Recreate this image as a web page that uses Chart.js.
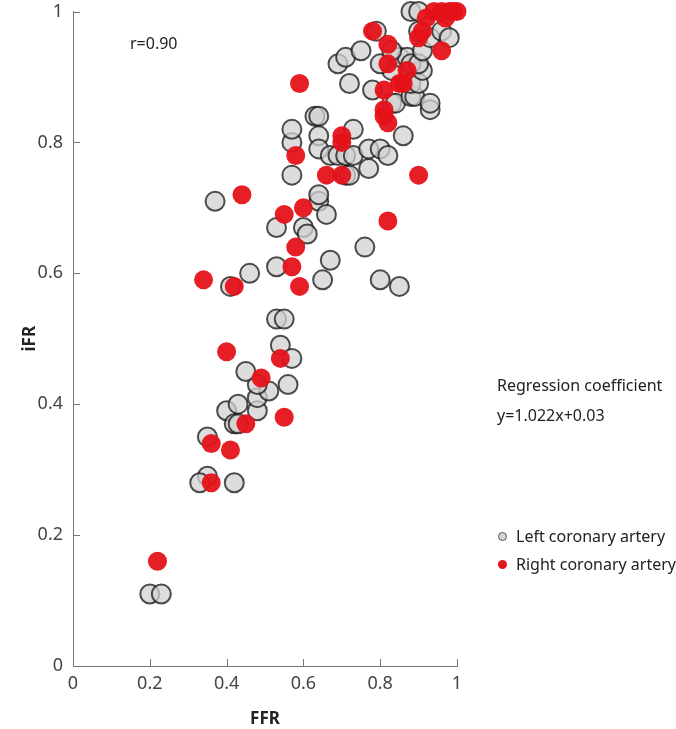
<!DOCTYPE html>
<html>
<head>
<meta charset="utf-8">
<script src="https://cdn.jsdelivr.net/npm/chart.js@4"></script>
<style>
  html, body { margin: 0; padding: 0; background: #fff; }
  #wrap { position: relative; width: 676px; height: 729px; }
  .note { position: absolute; font-family: "Noto Sans", sans-serif; font-size: 16px; color: #222; white-space: nowrap; line-height: 1; }
  .dot { position: absolute; width: 9px; height: 9px; border-radius: 50%; box-sizing: border-box; }
</style>
</head>
<body>
<div id="wrap">
  <canvas id="chart"></canvas>
  <div class="note" style="left:130px; top:35px;">r=0.90</div>
  <div class="note" style="left:497px; top:377px;">Regression coefficient</div>
  <div class="note" style="left:497px; top:407px;">y=1.022x+0.03</div>
  <div class="dot" style="left:498px; top:532px; background:#d4d4d4; border:1px solid #555;"></div>
  <div class="note" style="left:516px; top:528px;">Left coronary artery</div>
  <div class="dot" style="left:498px; top:560px; background:#e3141b;"></div>
  <div class="note" style="left:516px; top:556px;">Right coronary artery</div>
</div>
<script>
  const tickValues = [0, 0.2, 0.4, 0.6, 0.8, 1];
  const tickLabels = ['0', '0.2', '0.4', '0.6', '0.8', '1'];

  // Left coronary artery (FFR, iFR)
  const leftFFR = [0.20, 0.23, 0.35, 0.33, 0.42, 0.35, 0.40, 0.43, 0.42, 0.43, 0.48, 0.48, 0.51, 0.48, 0.56, 0.45,
    0.54, 0.57, 0.53, 0.55, 0.41, 0.46, 0.53, 0.65, 0.80, 0.85, 0.67, 0.76, 0.53, 0.60, 0.61,
    0.37, 0.64, 0.66, 0.64, 0.57, 0.71, 0.72, 0.77, 0.57, 0.57, 0.63, 0.64, 0.64, 0.64, 0.67, 0.69, 0.71, 0.73, 0.73,
    0.77, 0.80, 0.82, 0.86, 0.93, 0.83, 0.84, 0.88, 0.89, 0.93, 0.72, 0.78, 0.88, 0.90, 0.83, 0.91, 0.80, 0.85, 0.87,
    0.88, 0.90, 0.69, 0.71, 0.75, 0.83, 0.91, 0.93, 0.90, 0.96, 0.98, 0.79, 0.88, 0.90];
  const leftIFR = [0.11, 0.11, 0.29, 0.28, 0.28, 0.35, 0.39, 0.40, 0.37, 0.37, 0.39, 0.41, 0.42, 0.43, 0.43, 0.45,
    0.49, 0.47, 0.53, 0.53, 0.58, 0.60, 0.61, 0.59, 0.59, 0.58, 0.62, 0.64, 0.67, 0.67, 0.66,
    0.71, 0.71, 0.69, 0.72, 0.75, 0.75, 0.75, 0.76, 0.80, 0.82, 0.84, 0.84, 0.81, 0.79, 0.78, 0.78, 0.78, 0.78, 0.82,
    0.79, 0.79, 0.78, 0.81, 0.85, 0.86, 0.86, 0.87, 0.87, 0.86, 0.89, 0.88, 0.89, 0.89, 0.91, 0.91, 0.92, 0.93, 0.93,
    0.92, 0.92, 0.92, 0.93, 0.94, 0.94, 0.94, 0.96, 0.97, 0.97, 0.96, 0.97, 1.00, 1.00];

  // Right coronary artery (FFR, iFR)
  const rightFFR = [0.22, 0.36, 0.36, 0.41, 0.45, 0.55, 0.49, 0.40, 0.54, 0.34, 0.42, 0.59, 0.57, 0.58, 0.82, 0.55,
    0.60, 0.44, 0.66, 0.70, 0.90, 0.58, 0.70, 0.70, 0.81, 0.82, 0.81, 0.81, 0.85, 0.86, 0.87, 0.82, 0.59, 0.82,
    0.78, 0.96, 0.90, 0.91, 0.92, 0.94, 0.96, 0.97, 0.98, 1.00, 0.99];
  const rightIFR = [0.16, 0.28, 0.34, 0.33, 0.37, 0.38, 0.44, 0.48, 0.47, 0.59, 0.58, 0.58, 0.61, 0.64, 0.68, 0.69,
    0.70, 0.72, 0.75, 0.75, 0.75, 0.78, 0.81, 0.80, 0.84, 0.83, 0.85, 0.88, 0.89, 0.89, 0.91, 0.92, 0.89, 0.95,
    0.97, 0.94, 0.96, 0.97, 0.99, 1.00, 1.00, 0.99, 1.00, 1.00, 1.00];

  const toPoints = (xs, ys) => xs.map((x, i) => ({ x: x, y: ys[i] }));

  // short tick marks pointing into the plot, like the original figure
  const innerTicks = {
    id: 'innerTicks',
    afterDatasetsDraw(chart) {
      const ctx = chart.ctx;
      const xs = chart.scales.x;
      const ys = chart.scales.y;
      ctx.save();
      ctx.strokeStyle = '#777';
      ctx.lineWidth = 1;
      ctx.beginPath();
      tickValues.forEach(v => {
        const px = Math.round(xs.getPixelForValue(v)) + 0.5;
        ctx.moveTo(px, ys.bottom);
        ctx.lineTo(px, ys.bottom - 7);
        const py = Math.round(ys.getPixelForValue(v)) + 0.5;
        ctx.moveTo(xs.left, py);
        ctx.lineTo(xs.left + 7, py);
      });
      ctx.stroke();
      ctx.restore();
    }
  };

  const tickFont = { family: '"Noto Sans", sans-serif', size: 18 };
  const titleFont = { family: '"Noto Sans", sans-serif', size: 17, weight: 'bold' };

  new Chart(document.getElementById('chart'), {
    type: 'scatter',
    data: {
      datasets: [
        {
          label: 'Right coronary artery',
          data: toPoints(rightFFR, rightIFR),
          backgroundColor: 'rgba(229,18,25,0.95)',
          borderWidth: 0,
          pointRadius: 9.5,
          clip: false,
          order: 0
        },
        {
          label: 'Left coronary artery',
          data: toPoints(leftFFR, leftIFR),
          backgroundColor: 'rgba(210,210,210,0.75)',
          borderColor: 'rgba(20,20,20,0.75)',
          borderWidth: 2,
          pointRadius: 9.5,
          clip: false,
          order: 1
        }
      ]
    },
    options: {
      responsive: true,
      maintainAspectRatio: false,
      animation: false,
      events: [],
      layout: { padding: { top: 0, right: 219, bottom: 0, left: 0 } },
      plugins: { legend: { display: false }, tooltip: { enabled: false } },
      scales: {
        x: {
          type: 'linear',
          min: 0,
          max: 1,
          afterBuildTicks: s => { s.ticks = tickValues.map(v => ({ value: v })); },
          afterFit: s => { s.height = 63; },
          grid: { display: true, drawOnChartArea: false, drawTicks: false },
          border: { color: '#777', width: 1 },
          ticks: {
            padding: 7,
            color: '#444',
            font: tickFont,
            callback: (v) => tickLabels[tickValues.indexOf(v)]
          },
          title: { display: true, text: 'FFR', color: '#222', font: titleFont, padding: { top: 0, bottom: 0 } }
        },
        y: {
          type: 'linear',
          min: 0,
          max: 1,
          afterBuildTicks: s => { s.ticks = tickValues.map(v => ({ value: v })); },
          afterFit: s => { s.width = 73; s.paddingTop = 11; s.paddingBottom = 11; },
          grid: { display: true, drawOnChartArea: false, drawTicks: false },
          border: { color: '#777', width: 1 },
          ticks: {
            padding: 10,
            color: '#444',
            font: tickFont,
            callback: (v) => tickLabels[tickValues.indexOf(v)]
          },
          title: { display: true, text: 'iFR', color: '#222', font: titleFont, padding: { top: 20, bottom: 0 } }
        }
      }
    },
    plugins: [innerTicks]
  });
</script>
</body>
</html>
